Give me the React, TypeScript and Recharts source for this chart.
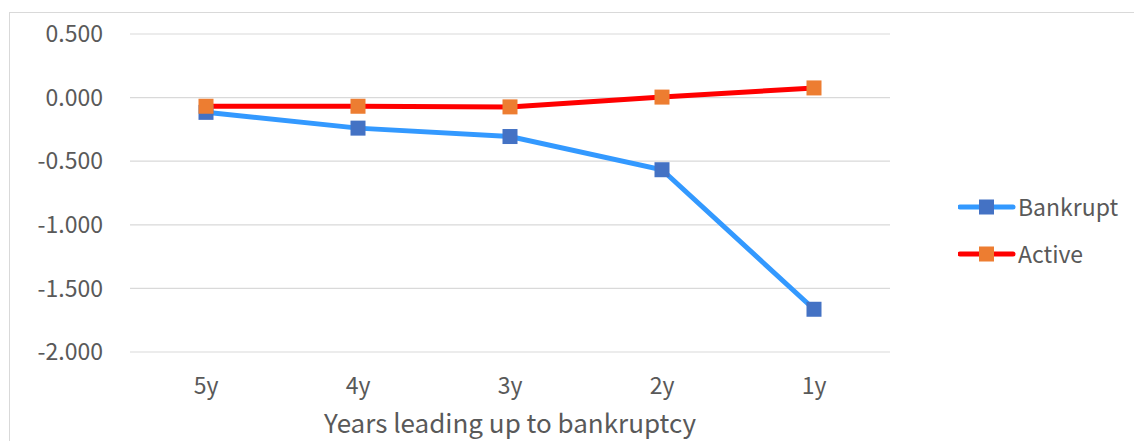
import * as React from "react"
import {
  LineChart,
  Line,
  XAxis,
  YAxis,
  CartesianGrid,
} from "recharts"

// ─── Data ────────────────────────────────────────────────────────────────────
const YEARS = ["5y", "4y", "3y", "2y", "1y"]
const BANKRUPT = [-0.116, -0.24, -0.306, -0.567, -1.664]
const ACTIVE = [-0.068, -0.068, -0.073, 0.004, 0.076]
const Y_TICKS = [-2, -1.5, -1, -0.5, 0, 0.5]

const data = YEARS.map((year, i) => ({
  year,
  bankrupt: BANKRUPT[i],
  active: ACTIVE[i],
}))

// ─── Styles ──────────────────────────────────────────────────────────────────
const FONT = "'Noto Sans CJK KR', 'Noto Sans', sans-serif"
const TEXT = "#595959"
const GRID = "#d9d9d9"

const SERIES = [
  { key: "bankrupt", name: "Bankrupt", line: "#3399ff", marker: "#4472c4" },
  { key: "active", name: "Active", line: "#ff0000", marker: "#ed7d31" },
]

function squareDot(color: string) {
  return (props: any) => {
    const { cx, cy, index } = props
    if (cx == null || cy == null) return <g key={index} />
    return <rect key={index} x={cx - 7.5} y={cy - 7.5} width={15} height={15} fill={color} />
  }
}

// legend sits outside the svg so it doesn't eat into the plot area
function LegendBox() {
  return (
    <div
      style={{
        position: "absolute",
        left: 950,
        top: 175,
        fontFamily: FONT,
        fontSize: 23,
        color: TEXT,
      }}
    >
      {SERIES.map((s) => (
        <div key={s.key} style={{ display: "flex", alignItems: "center", height: 47 }}>
          <svg width={60} height={20} style={{ display: "block" }}>
            <line x1={2} y1={10} x2={55} y2={10} stroke={s.line} strokeWidth={5} strokeLinecap="round" />
            <rect x={21} y={2.5} width={15} height={15} fill={s.marker} />
          </svg>
          <span style={{ lineHeight: 1 }}>{s.name}</span>
        </div>
      ))}
    </div>
  )
}

export default function App() {
  return (
    <div style={{ position: "relative", width: 1134, height: 433, overflow: "hidden", background: "#fff" }}>
      <div
        style={{
          position: "absolute",
          left: 1,
          top: 4,
          width: 1300,
          height: 700,
          border: `1px solid ${GRID}`,
        }}
      />
      <div style={{ position: "absolute", left: 0, top: 0 }}>
        <LineChart
          width={1134}
          height={433}
          data={data}
          margin={{ top: 26, right: 252, left: 0, bottom: 0 }}
        >
          <CartesianGrid vertical={false} stroke={GRID} strokeWidth={1.2} />
          <XAxis
            dataKey="year"
            height={89}
            padding={{ left: 76, right: 76 }}
            axisLine={false}
            tickLine={false}
            tickSize={0}
            tickMargin={26}
            tick={{ fill: TEXT, fontSize: 23, fontFamily: FONT }}
            label={(props: any) => {
              const vb = props.viewBox
              return (
                <text
                  x={vb.x + vb.width / 2}
                  y={vb.y + 81}
                  textAnchor="middle"
                  fill={TEXT}
                  fontSize={26}
                  fontFamily={FONT}
                >
                  Years leading up to bankruptcy
                </text>
              )
            }}
          />
          <YAxis
            width={122}
            domain={[-2, 0.5]}
            ticks={Y_TICKS}
            interval={0}
            axisLine={false}
            tickLine={false}
            tickSize={0}
            tickMargin={27}
            tickFormatter={(v: number) => v.toFixed(3)}
            tick={{ fill: TEXT, fontSize: 23, fontFamily: FONT }}
          />
          {SERIES.map((s) => (
            <Line
              key={s.key}
              dataKey={s.key}
              name={s.name}
              stroke={s.line}
              strokeWidth={5}
              dot={squareDot(s.marker)}
              activeDot={false}
              isAnimationActive={false}
            />
          ))}
        </LineChart>
      </div>
      <LegendBox />
    </div>
  )
}
